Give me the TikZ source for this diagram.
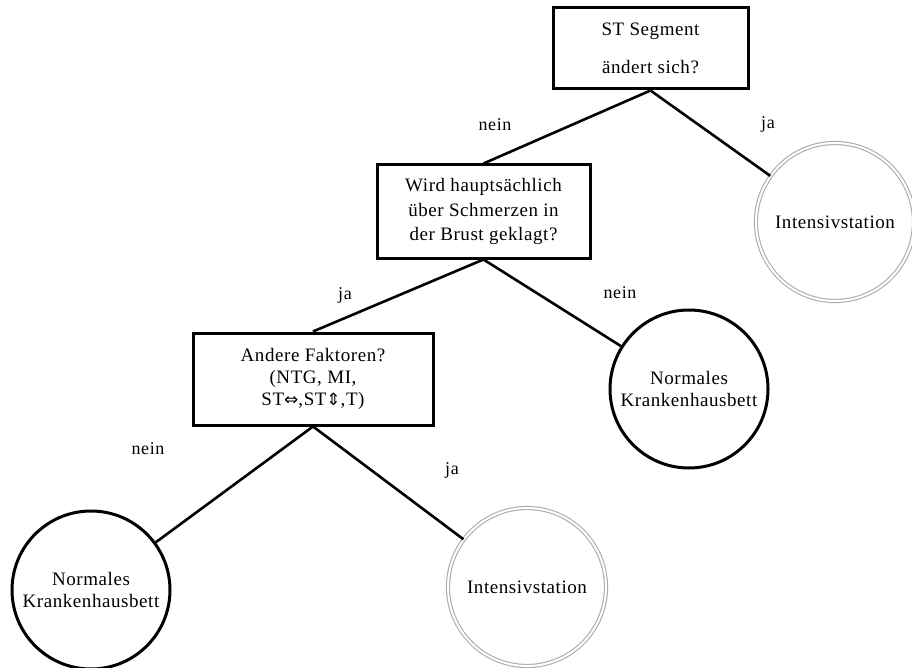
\documentclass[tikz,border=0pt]{standalone}
\usepackage{fontspec}
\setmainfont{Liberation Serif}[LetterSpace=3]
\newfontfamily\symf{DejaVu Sans}
\begin{document}
\begin{tikzpicture}[x=1pt,y=-1pt,
  qbox/.style={draw=black,line width=3pt,fill=white,align=center,inner sep=0pt},
  leafn/.style={circle,draw=black,line width=3pt,minimum size=158pt,inner sep=0pt,align=center,font=\fontsize{19}{22}\selectfont},
  leafi/.style={circle,draw=gray!65,line width=1.1pt,double=white,double distance=2pt,minimum size=158pt,inner sep=0pt,align=center,font=\fontsize{19}{22}\selectfont},
  edge/.style={draw=black,line width=2.6pt},
  lbl/.style={font=\fontsize{18}{22}\selectfont,inner sep=0pt}]
\useasboundingbox (0,0) rectangle (912,668);
\fill[white] (0,0) rectangle (912,668);
% question boxes
\node[qbox,minimum width=195pt,minimum height=81pt,font=\fontsize{19}{38}\selectfont] (b1) at (650.5,48.5) {ST Segment\\ändert sich?};
\node[qbox,minimum width=213pt,minimum height=93pt,font=\fontsize{19}{24.5}\selectfont] (b2) at (483.5,211.5) {Wird hauptsächlich\\über Schmerzen in\\der Brust geklagt?};
\node[qbox,minimum width=240pt,minimum height=92pt,font=\fontsize{19}{22}\selectfont] (b3) at (313,379) {Andere Faktoren?\\(NTG, MI,\\ST{\symf\fontsize{17}{22}\selectfont ⇔},ST{\symf\fontsize{17}{22}\selectfont ⇕},T)};
% leaves
\node[leafi] (c1) at (835,222) {Intensivstation};
\node[leafn] (c2) at (689,389) {Normales\\Krankenhausbett};
\node[leafn] (c3) at (91,590) {Normales\\Krankenhausbett};
\node[leafi] (c4) at (527,587) {Intensivstation};
% connectors
\draw[edge] (b1.south) -- (b2.north);
\draw[edge] (b1.south) -- (c1);
\draw[edge] (b2.south) -- (b3.north);
\draw[edge] (b2.south) -- (c2);
\draw[edge] (b3.south) -- (c3);
\draw[edge] (b3.south) -- (c4);
% labels
\node[lbl] (l1) at (495,125) {nein};
\node[lbl] (l2) at (768,124) {ja};
\node[lbl] (l3) at (345,295) {ja};
\node[lbl] (l4) at (620,293) {nein};
\node[lbl] (l5) at (148,449) {nein};
\node[lbl] (l6) at (452,470) {ja};
\end{tikzpicture}
\end{document}
